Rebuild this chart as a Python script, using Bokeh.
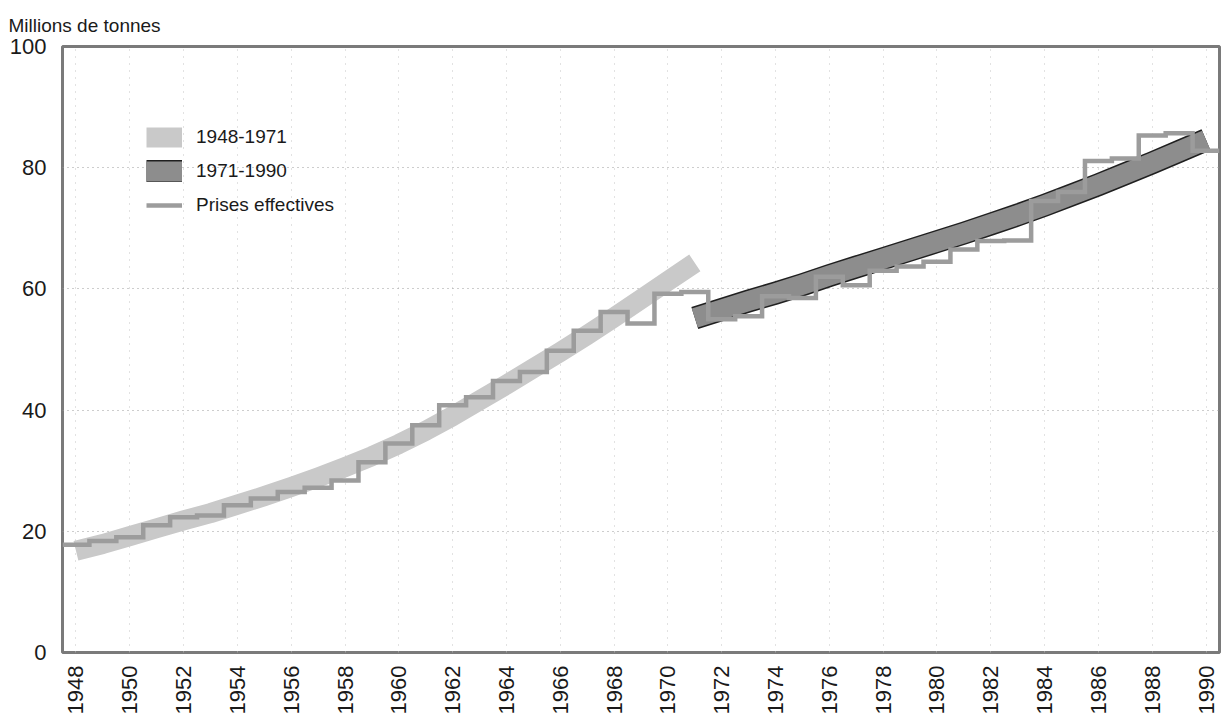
import math
import numpy as np
from bokeh.plotting import figure
from bokeh.models import Range1d, FixedTicker, Legend, LegendItem
from bokeh.embed import file_html
from bokeh.resources import INLINE

# ---- data ----
catch_years = list(range(1948, 1991))
catch = [17.8, 18.4, 19.0, 21.0, 22.3, 22.6, 24.3, 25.4, 26.5, 27.2,
         28.4, 31.4, 34.5, 37.5, 40.8, 42.1, 44.8, 46.3, 49.8, 53.1,
         56.2, 54.3, 59.2, 59.5, 55.0, 55.5, 58.8, 58.5, 62.0, 60.6,
         63.0, 63.7, 64.5, 66.5, 67.9, 68.0, 74.5, 76.0, 81.1, 81.5,
         85.3, 85.7, 82.8]

trend1_years = list(range(1948, 1972))
trend1 = [16.8, 17.9, 19.2, 20.5, 21.8, 23.0, 24.4, 25.8, 27.3, 28.9,
          30.6, 32.4, 34.4, 36.6, 39.0, 41.6, 44.2, 46.9, 49.6, 52.4,
          55.3, 58.3, 61.3, 64.3]

trend2_years = list(range(1971, 1991))
trend2 = [55.2, 56.6, 58.0, 59.3, 60.7, 62.2, 63.6, 65.0, 66.4, 67.8,
          69.2, 70.7, 72.2, 73.8, 75.5, 77.2, 79.0, 80.8, 82.7, 84.6]

x_ticks = list(range(1948, 1991, 2))
y_ticks = [0, 20, 40, 60, 80, 100]

labels = ["1948-1971", "1971-1990", "Prises effectives"]

FONT = "Liberation Sans"

p = figure(width=1223, height=717, output_backend="svg", toolbar_location=None,
           x_range=Range1d(1947.5, 1990.5), y_range=Range1d(0, 100),
           min_border_left=62, min_border_right=4, min_border_top=46,
           min_border_bottom=65)

p.title.text = "Millions de tonnes"
p.title.text_font = FONT
p.title.text_font_size = "19px"
p.title.text_font_style = "normal"
p.title.text_color = "#1a1a1a"
p.title.align = "left"
p.title.offset = -54
p.title.standoff = 22

p.outline_line_color = "#7a7a7a"
p.outline_line_width = 3

# axes
for ax in (p.xaxis, p.yaxis):
    ax.axis_line_color = None
    ax.major_tick_line_color = None
    ax.minor_tick_line_color = None
    ax.major_label_text_font = FONT
    ax.major_label_text_font_size = "22px"
    ax.major_label_text_color = "#1a1a1a"

p.xaxis.ticker = FixedTicker(ticks=x_ticks)
p.xaxis.major_label_orientation = math.pi / 2
p.xaxis.major_label_standoff = 7
p.yaxis.ticker = FixedTicker(ticks=y_ticks)
p.yaxis.major_label_standoff = 10

p.xgrid.ticker = FixedTicker(ticks=x_ticks)
p.xgrid.grid_line_color = "#c4c4c4"
p.xgrid.grid_line_dash = "1 6"
p.ygrid.ticker = FixedTicker(ticks=[20, 40, 60, 80])
p.ygrid.grid_line_color = "#9a9a9a"
p.ygrid.grid_line_dash = "1 4"

# bands
band1 = p.line(trend1_years, trend1, line_width=20, line_color="#c9c9c9",
               line_cap="butt", line_join="round")
band2_edge = p.line(trend2_years, trend2, line_width=23, line_color="#202020",
                    line_cap="butt", line_join="round")
band2 = p.line(trend2_years, trend2, line_width=20, line_color="#8d8d8d",
               line_cap="butt", line_join="round")

# step line of actual catches (each year centred on its own value)
cy = np.asarray(catch_years, dtype=float)
sx = np.column_stack([cy - 0.5, cy + 0.5]).ravel()
sy = np.repeat(np.asarray(catch, dtype=float), 2)
step = p.line(sx, sy, line_width=4.5, line_color="#9c9c9c", line_join="miter")

legend = Legend(items=[LegendItem(label=labels[0], renderers=[band1]),
                       LegendItem(label=labels[1], renderers=[band2_edge, band2]),
                       LegendItem(label=labels[2], renderers=[step])],
                location=(84, 436), padding=0, margin=0, spacing=12,
                glyph_width=36, glyph_height=22, label_height=22,
                label_standoff=14, label_text_font=FONT,
                label_text_font_size="19px", label_text_color="#1a1a1a",
                border_line_color=None, background_fill_alpha=0)
p.add_layout(legend)

open("out.html", "w").write(file_html(p, INLINE))
